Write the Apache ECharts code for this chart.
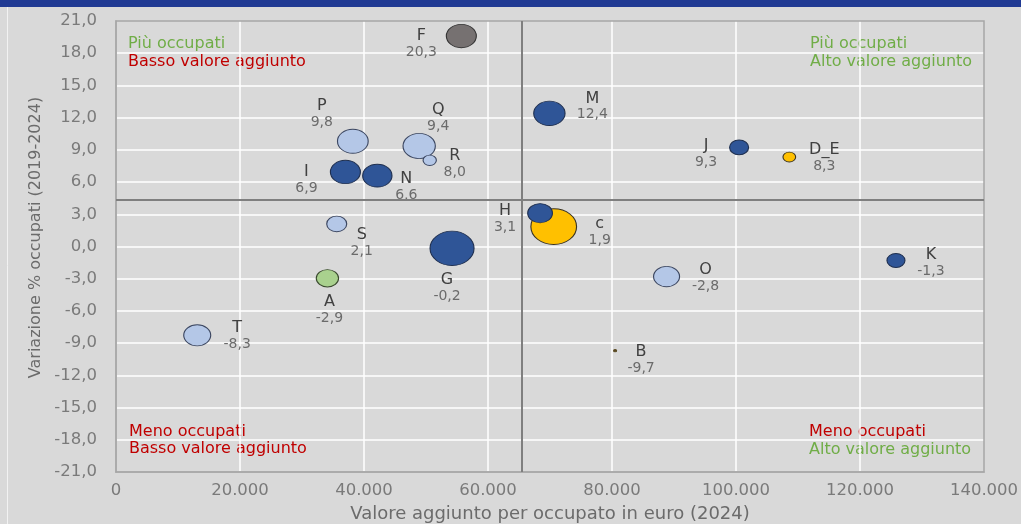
<!DOCTYPE html>
<html>
<head>
<meta charset="utf-8">
<script src="https://cdn.jsdelivr.net/npm/echarts@6/dist/echarts.min.js"></script>
<style>
html,body{margin:0;padding:0;background:#d9d9d9;}
#c{width:1021px;height:524px;}
</style>
</head>
<body>
<div id="c"></div>
<script>
// ---- data ----
const settori = ['T','A','S','I','P','N','G','Q','R','F','c','H','M','B','O','J','D_E','K'];
const valoreAggiunto = [13100, 34100, 35600, 37000, 38200, 42150, 54200, 48900, 50600, 55700, 70600, 68400, 69900, 80500, 88800, 100500, 108600, 125800];
const variazione = [-8.27, -2.96, 2.1, 6.94, 9.8, 6.6, -0.17, 9.36, 8.03, 19.6, 1.85, 3.1, 12.4, -9.7, -2.8, 9.23, 8.33, -1.3];
const etichette = ['-8,3','-2,9','2,1','6,9','9,8','6,6','-0,2','9,4','8,0','20,3','1,9','3,1','12,4','-9,7','-2,8','9,3','8,3','-1,3'];
const dimensione = [27, 22.3, 20, 30, 30.7, 29.3, 44, 32.3, 13.3, 30, 45.7, 24.7, 31.3, 3, 26, 19, 12.7, 18];
const gruppo = ['chiaro','verde','chiaro','scuro','chiaro','scuro','scuro','chiaro','chiaro','grigio','giallo','scuro','scuro','marrone','chiaro','scuro','giallo','scuro'];
const sogliaX = 65500;
const sogliaY = 4.4;
const xTicks = [0, 20000, 40000, 60000, 80000, 100000, 120000, 140000];

// ---- styles ----
const coloriGruppo = {
  scuro:  {color:'#2f5597', border:'#1f2f4f'},
  chiaro: {color:'#b4c7e7', border:'#3b4660'},
  giallo: {color:'#ffc000', border:'#3a3320'},
  grigio: {color:'#767171', border:'#333333'},
  verde:  {color:'#a9d18e', border:'#3b4a30'},
  marrone:{color:'#5a4a22', border:'#5a4a22'}
};
const offsetEtichetta = {
  T:[40,1], A:[2,32], S:[25,19], I:[-39,8], P:[-31,-27], N:[29,11], G:[-5,40],
  Q:[19,-28], R:[25,4], F:[-40,8], c:[46,5], H:[-35,6], M:[43,-7], B:[26,9],
  O:[39,1], J:[-33,6], D_E:[35,1], K:[35,2]
};

const data = settori.map((s, i) => {
  const st = coloriGruppo[gruppo[i]];
  return {
    name: s,
    value: [valoreAggiunto[i], variazione[i], dimensione[i]],
    symbolSize: [dimensione[i], dimensione[i] * 0.78],
    itemStyle: {color: st.color, borderColor: st.border, borderWidth: 1, opacity: 1},
    label: {
      show: true,
      position: 'inside',
      offset: offsetEtichetta[s],
      formatter: '{n|' + s + '}\n{v|' + etichette[i] + '}'
    }
  };
});

const chart = echarts.init(document.getElementById('c'), null, {renderer: 'canvas'});
const FONT = 'DejaVu Sans';
const green = '#70ad47', red = '#c00000';
function qText(x, y, text, color) {
  return {type:'text', x:x, y:y, silent:true,
    style:{text:text, fill:color, font:'16px "' + FONT + '"', textVerticalAlign:'middle', textAlign:'left'}};
}
chart.setOption({
  backgroundColor: '#d9d9d9',
  animation: false,
  textStyle: {fontFamily: FONT},
  grid: {left: 116, right: 37, top: 21, bottom: 52, containLabel: false, outerBoundsMode: 'none',
    show: true, borderColor: '#a6a6a6', borderWidth: 1.5, backgroundColor: 'transparent', z: 3},
  xAxis: {
    type: 'value', min: 0, max: 140000, interval: 20000,
    name: 'Valore aggiunto per occupato in euro (2024)',
    nameLocation: 'middle', nameGap: 33,
    nameTextStyle: {color: '#6b6b6b', fontSize: 18, fontFamily: FONT},
    axisLine: {show: true, onZero: false, lineStyle: {color: '#a6a6a6', width: 1.5}},
    axisTick: {show: false},
    splitLine: {show: true, showMaxLine: false, lineStyle: {color: '#ffffff', width: 1.5}},
    axisLabel: {color: '#7a7a7a', fontSize: 16.5, margin: 10, fontFamily: FONT,
      formatter: v => xTicks.includes(v) ? (v === 0 ? '0' : String(v).replace(/\B(?=(\d{3})+(?!\d))/g, '.')) : ''}
  },
  yAxis: {
    type: 'value', min: -21, max: 21, interval: 3,
    name: 'Variazione % occupati (2019-2024)',
    nameLocation: 'middle', nameGap: 70, nameRotate: 90,
    nameTextStyle: {color: '#6b6b6b', fontSize: 16, fontFamily: FONT, padding: [0, 0, 0, 18]},
    axisLine: {show: true, onZero: false, lineStyle: {color: '#a6a6a6', width: 1.5}},
    axisTick: {show: false},
    splitLine: {show: true, showMaxLine: false, lineStyle: {color: '#ffffff', width: 1.5}},
    axisLabel: {color: '#7a7a7a', fontSize: 16.5, margin: 19, fontFamily: FONT,
      formatter: v => v.toFixed(1).replace('.', ',')}
  },
  series: [{
    type: 'scatter',
    data: data,
    label: {
      rich: {
        n: {fontSize: 16, color: '#404040', lineHeight: 17, fontFamily: FONT, align: 'center'},
        v: {fontSize: 14, color: '#6b6b6b', lineHeight: 16, fontFamily: FONT, align: 'center'}
      }
    },
    emphasis: {disabled: true},
    markLine: {
      silent: true, symbol: 'none', animation: false,
      label: {show: false},
      lineStyle: {color: '#7f7f7f', width: 2, type: 'solid'},
      data: [{xAxis: sogliaX}, {yAxis: sogliaY}]
    }
  }],
  graphic: [
    {type:'rect', shape:{x:0, y:0, width:1021, height:7}, style:{fill:'#203a93'}, silent:true},
    {type:'line', shape:{x1:7.5, y1:7, x2:7.5, y2:524}, style:{stroke:'#f2f2f2', lineWidth:1}, silent:true},
    qText(128, 44, 'Più occupati', green),
    qText(128, 62, 'Basso valore aggiunto', red),
    qText(810, 44, 'Più occupati', green),
    qText(810, 62, 'Alto valore aggiunto', green),
    qText(129, 432, 'Meno occupati', red),
    qText(129, 449, 'Basso valore aggiunto', red),
    qText(809, 432, 'Meno occupati', red),
    qText(809, 450, 'Alto valore aggiunto', green)
  ]
});
</script>
</body>
</html>
